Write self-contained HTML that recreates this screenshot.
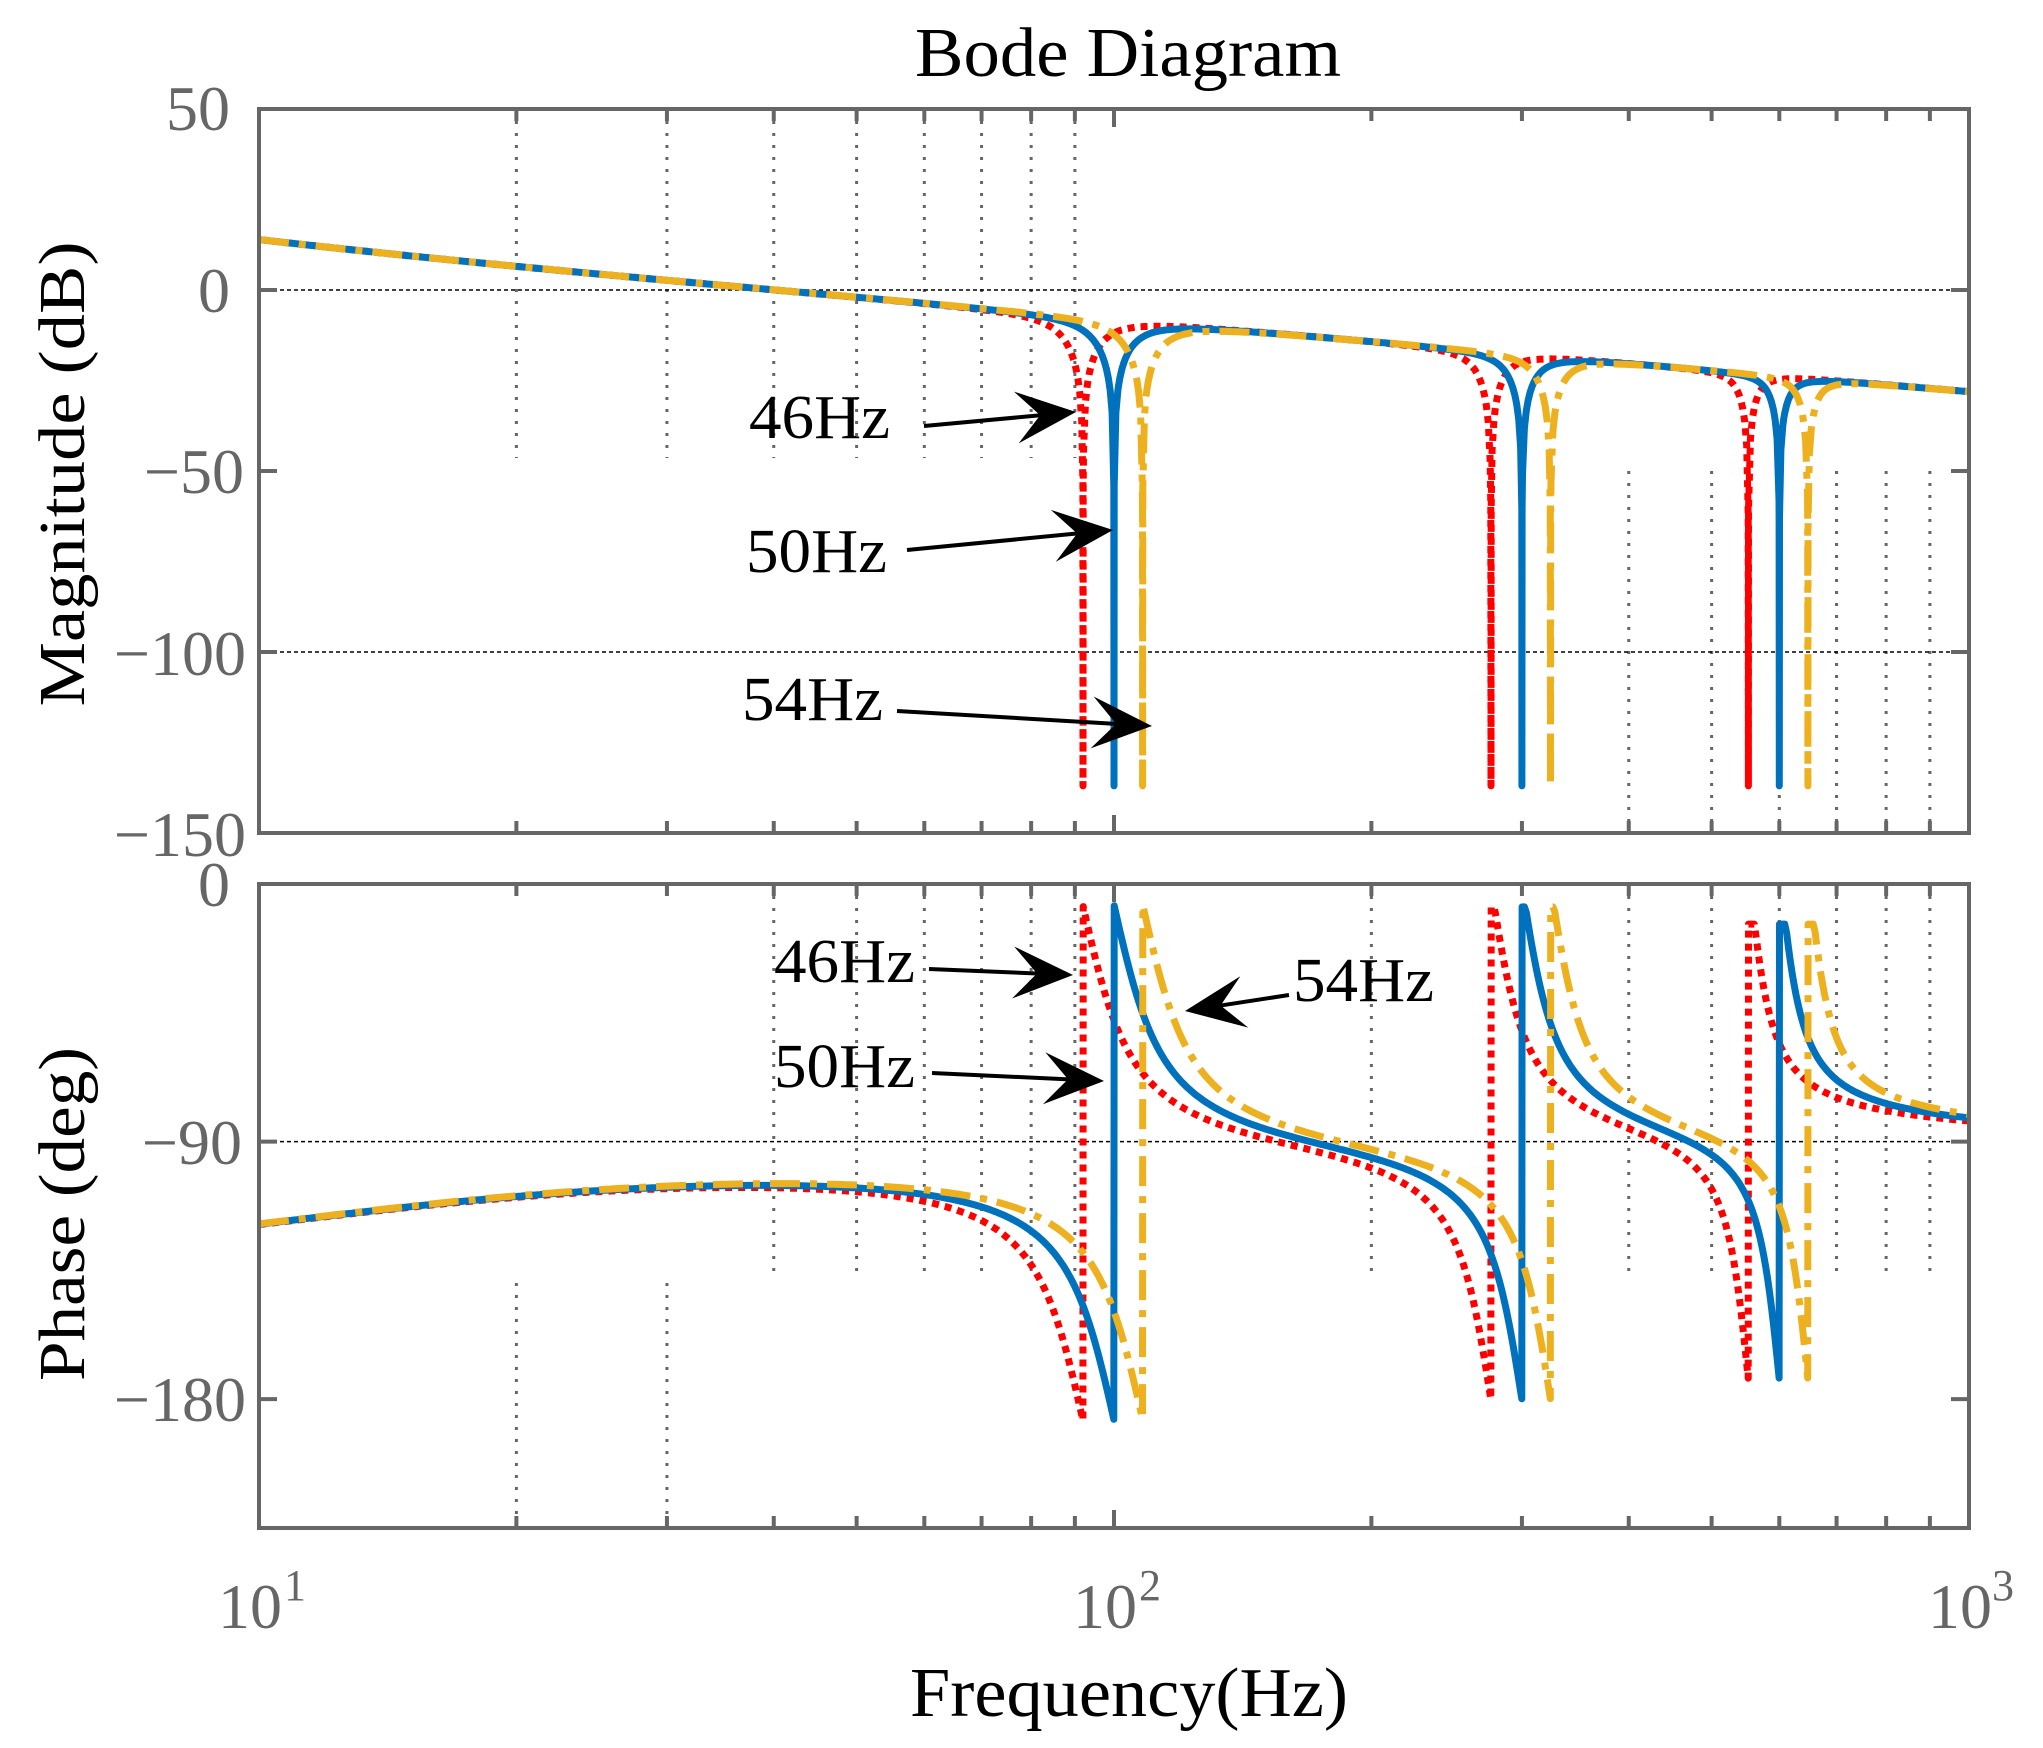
<!DOCTYPE html>
<html><head><meta charset="utf-8">
<style>
html,body{margin:0;padding:0;background:#fff;}
svg{display:block;}
text{font-family:"Liberation Serif",serif;}
</style></head>
<body>
<svg id="s" xmlns="http://www.w3.org/2000/svg" width="2043" height="1748" viewBox="0 0 2043 1748">
<defs>
<clipPath id="cm"><rect x="259" y="109" width="1710" height="724"/></clipPath>
<clipPath id="cp"><rect x="259" y="884" width="1710" height="644"/></clipPath>
</defs>
<rect width="2043" height="1748" fill="#fff"/>
<g id="grid"></g>
<g id="curves"></g>
<g id="axes"></g>
<text x="1128" y="76" font-size="70" text-anchor="middle" textLength="426" lengthAdjust="spacingAndGlyphs">Bode Diagram</text>
<text x="1129" y="1716" font-size="70" text-anchor="middle" textLength="438" lengthAdjust="spacingAndGlyphs">Frequency(Hz)</text>
<text transform="translate(84,474) rotate(-90)" font-size="66" text-anchor="middle" textLength="465" lengthAdjust="spacingAndGlyphs">Magnitude (dB)</text>
<text transform="translate(84,1214) rotate(-90)" font-size="66" text-anchor="middle" textLength="334" lengthAdjust="spacingAndGlyphs">Phase (deg)</text>
<g font-size="64" fill="#666" text-anchor="end">
<text x="230" y="130">50</text>
<text x="230" y="312">0</text>
<text x="244" y="493">−50</text>
<text x="246" y="675">−100</text>
<text x="246" y="856">−150</text>
<text x="230" y="906">0</text>
<text x="242" y="1164">−90</text>
<text x="246" y="1421">−180</text>
</g>
<g font-size="64" fill="#666">
<text x="218" y="1628">10</text><text x="284" y="1600" font-size="44">1</text>
<text x="1073" y="1628">10</text><text x="1139" y="1600" font-size="44">2</text>
<text x="1928" y="1628">10</text><text x="1992" y="1600" font-size="44">3</text>
</g>
<g id="ann" font-size="62"></g>
</svg>
<script>
var NS="http://www.w3.org/2000/svg";
function el(p,t,a){var e=document.createElementNS(NS,t);for(var k in a)e.setAttribute(k,a[k]);p.appendChild(e);return e;}
var L=259,R=1969,MT=109,MB=833,PT=884,PB=1528;
function X(f){return L+(R-L)/2*(Math.log10(f)-1);}
function YM(d){return 290-d*3.62;}
function YP(p){return PT-p*2.862;}
var grid=document.getElementById('grid'),axes=document.getElementById('axes'),cur=document.getElementById('curves');
function vg(f,y1,y2){el(grid,'line',{x1:X(f),x2:X(f),y1:y1,y2:y2,stroke:'#666','stroke-width':3,'stroke-dasharray':'3,9'});}
[20,30,40,50,60,70,80,90].forEach(function(f){vg(f,MT,458);});
[400,500,600,700,800,900].forEach(function(f){vg(f,471,MB);});
[40,50,60,70,80,90,200,400,500,600,700,800,900].forEach(function(f){vg(f,PT,1276);});
[20,30].forEach(function(f){vg(f,1283,PB);});
[YM(0),YM(-100),YP(-90)].forEach(function(y){el(grid,'line',{x1:L,x2:R,y1:y,y2:y,stroke:'#000','stroke-width':1.5,'stroke-dasharray':'4,3'});});
function H(f,base){
  var fk=[base*2,base*6,base*12],z=[0.1,0.07,0.045];
  var mag=44-20*Math.log10(f)+10*Math.log10(1+f*f/64)-10*Math.log10(1+f*f/4);
  var ph=-90+Math.atan(f/8)*180/Math.PI-Math.atan(f/2)*180/Math.PI;
  for(var i=0;i<3;i++){
    var re=fk[i]*fk[i]-f*f, im=2*z[i]*fk[i]*f;
    mag+=20*Math.log10(Math.abs(re)+1e-12)-10*Math.log10(re*re+im*im);
    ph+=(re>=0?0:180)-Math.atan2(im,re)*180/Math.PI;
  }
  var cap=2; if(f>base*4)cap=-8; if(f>base*9)cap=-14;
  return [Math.max(mag,-137),Math.min(ph,cap)];
}
var series=[
 {b:46,c:'#ff0000',d:'7,6'},
 {b:50,c:'#0072bd',d:''},
 {b:54,c:'#edb120',d:'30,10,7,10'}
];
series.forEach(function(s){
  var fs=[],N=900;
  for(var i=0;i<=N;i++)fs.push(Math.pow(10,1+2*i/N));
  [2,6,12].forEach(function(m){var fk=s.b*m;fs.push(fk*0.9995,fk,fk*1.0005,fk*0.985,fk*1.012);});
  fs.sort(function(a,b){return a-b;});
  var pm=[],pp=[];
  fs.forEach(function(f){
    var h=H(f,s.b);
    pm.push(X(f).toFixed(1)+','+YM(h[0]).toFixed(1));
    var isN=[2,6,12].some(function(m){return Math.abs(f-s.b*m)<1e-9;});
    if(!isN)pp.push(X(f).toFixed(1)+','+YP(h[1]).toFixed(1));
  });
  var a={fill:'none',stroke:s.c,'stroke-width':7,'stroke-linejoin':'round'};
  if(s.d)a['stroke-dasharray']=s.d;
  var g1=el(cur,'g',{'clip-path':'url(#cm)'});a.points=pm.join(' ');el(g1,'polyline',a);
  var g2=el(cur,'g',{'clip-path':'url(#cp)'});a.points=pp.join(' ');el(g2,'polyline',a);
});
[[MT,MB],[PT,PB]].forEach(function(b){
  el(axes,'rect',{x:L,y:b[0],width:R-L,height:b[1]-b[0],fill:'none',stroke:'#666','stroke-width':4});
  for(var d=1;d<=2;d++)for(var m=1;m<=9;m++){var f=m*Math.pow(10,d);if(f>1000)break;var x=X(f),len=(m==1?18:12);
    el(axes,'line',{x1:x,x2:x,y1:b[1],y2:b[1]-len,stroke:'#666','stroke-width':4});
    el(axes,'line',{x1:x,x2:x,y1:b[0],y2:b[0]+len,stroke:'#666','stroke-width':4});}
});
[50,0,-50,-100,-150].forEach(function(d){var y=YM(d);el(axes,'line',{x1:L,x2:L+18,y1:y,y2:y,stroke:'#666','stroke-width':4});el(axes,'line',{x1:R,x2:R-18,y1:y,y2:y,stroke:'#666','stroke-width':4});});
[0,-90,-180].forEach(function(d){var y=YP(d);el(axes,'line',{x1:L,x2:L+18,y1:y,y2:y,stroke:'#666','stroke-width':4});el(axes,'line',{x1:R,x2:R-18,y1:y,y2:y,stroke:'#666','stroke-width':4});});
var ann=document.getElementById('ann');
function arrow(x1,y1,x2,y2){
  var dx=x2-x1,dy=y2-y1,l=Math.hypot(dx,dy),ux=dx/l,uy=dy/l,nx=-uy,ny=ux;
  var hl=60,hw=26,bx=x2-ux*hl,by=y2-uy*hl;
  el(ann,'line',{x1:x1,y1:y1,x2:x2-ux*30,y2:y2-uy*30,stroke:'#000','stroke-width':4});
  var p=[[x2,y2],[bx+nx*hw,by+ny*hw],[x2-ux*hl*0.6,y2-uy*hl*0.6],[bx-nx*hw,by-ny*hw]];
  el(ann,'polygon',{points:p.map(function(q){return q[0].toFixed(1)+','+q[1].toFixed(1);}).join(' '),fill:'#000'});
}
function txt(x,y,t){var e=el(ann,'text',{x:x,y:y,textLength:141,lengthAdjust:'spacingAndGlyphs'});e.textContent=t;}
txt(749,438,'46Hz');arrow(924,426,1076,412);
txt(746,572,'50Hz');arrow(907,550,1113,530);
txt(742,720,'54Hz');arrow(897,711,1152,726);
txt(774,982,'46Hz');arrow(929,969,1073,975);
txt(774,1087,'50Hz');arrow(932,1073,1104,1081);
txt(1293,1001,'54Hz');arrow(1289,995,1185,1011);
</script>
</body></html>
